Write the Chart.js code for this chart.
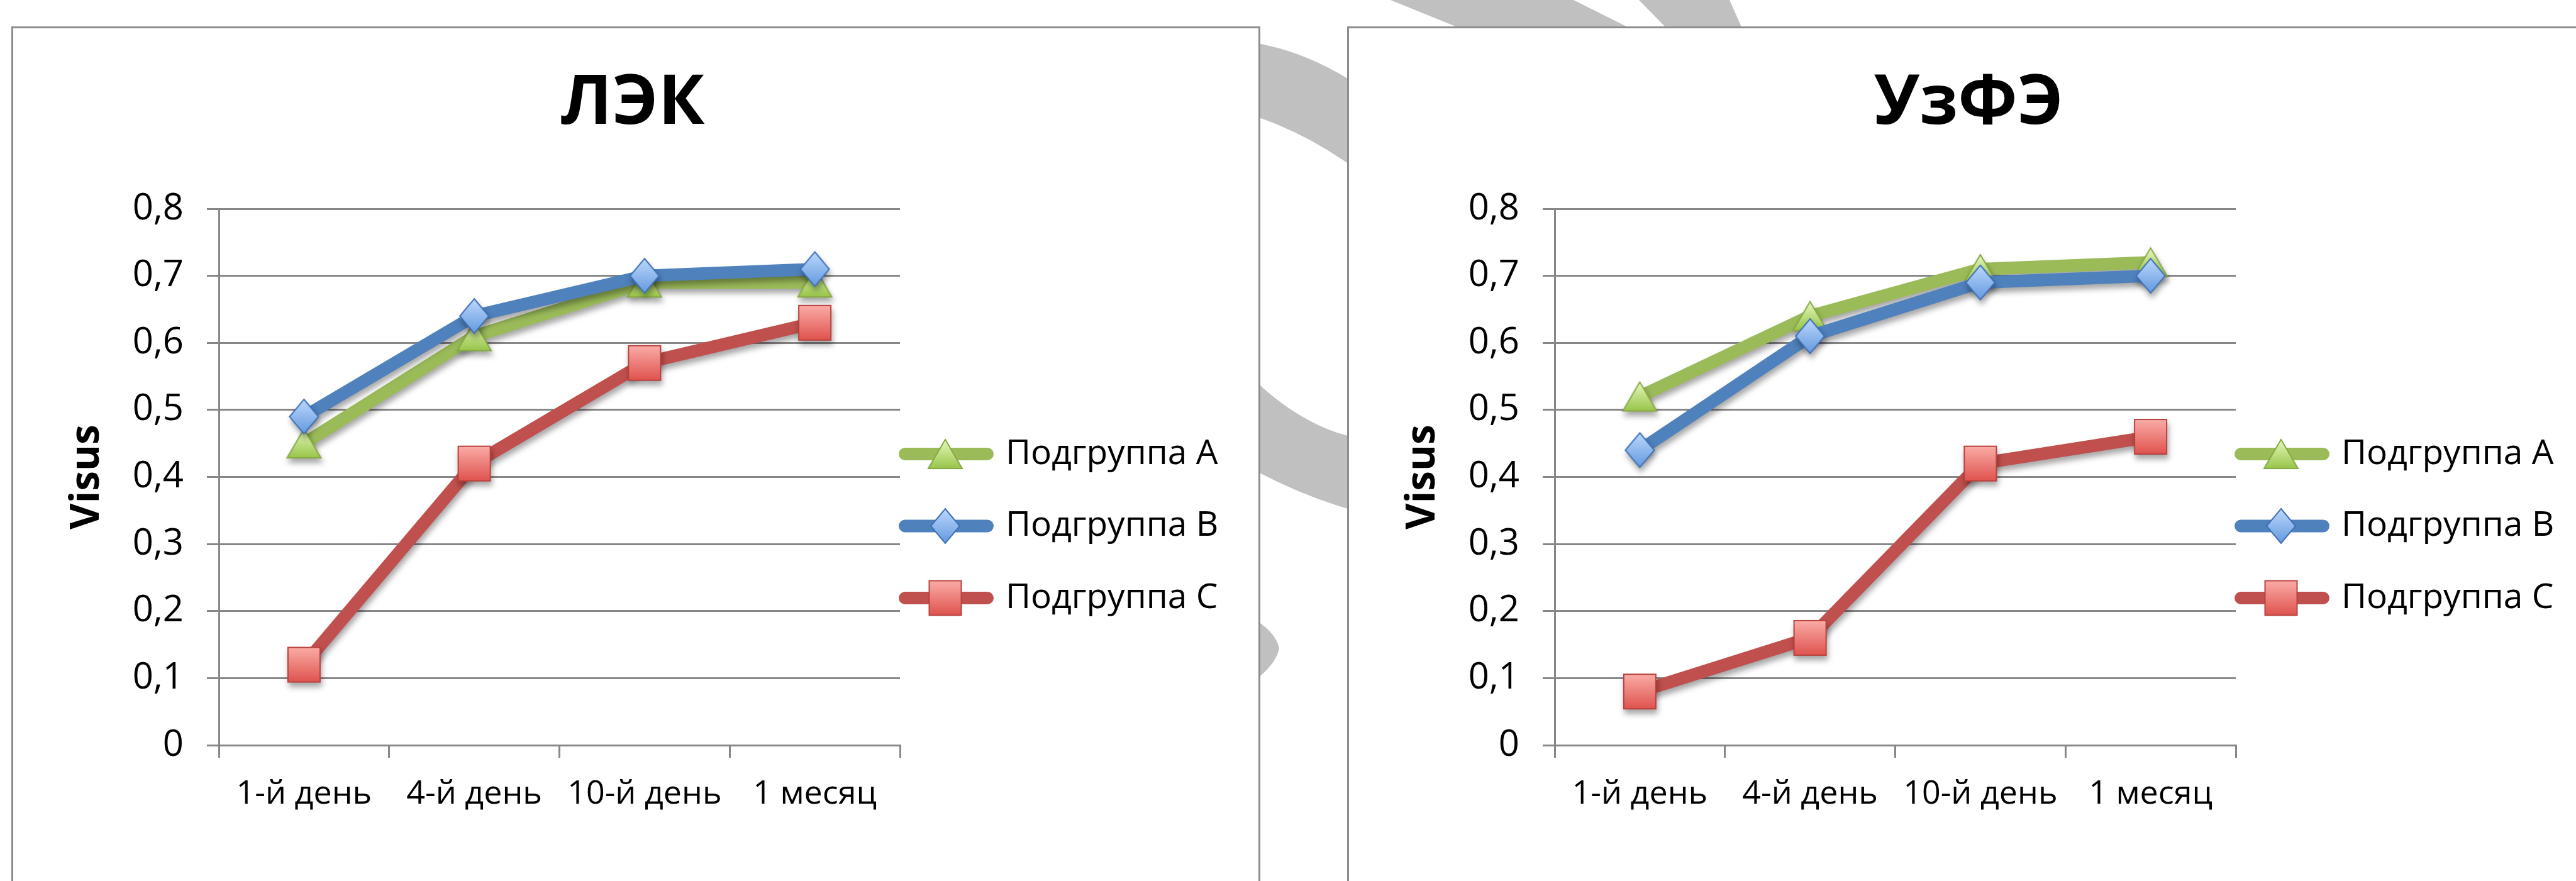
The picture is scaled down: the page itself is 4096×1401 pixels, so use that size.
<!DOCTYPE html>
<html>
<head>
<meta charset="utf-8">
<script src="https://cdn.jsdelivr.net/npm/chart.js@4.4.0/dist/chart.umd.min.js"></script>
<style>
  html, body { margin: 0; padding: 0; background: #fff; width: 4096px; height: 1401px; overflow: hidden; position: relative; }
  #swoosh { position: absolute; left: 0; top: 0; }
  .panel { position: absolute; top: 42px; width: 1986px; height: 1400px; box-sizing: border-box;
           background: #fff; border: 3px solid #8c8c8c; border-bottom: none; }
  .panel canvas { position: absolute; left: 0; top: 0; }
</style>
</head>
<body>
<!-- grey background swirl behind the two chart panels -->
<svg id="swoosh" width="4096" height="1401">
  <g fill="#c0c0c0">
    <path d="M1990,67 Q2080,82 2160,136 L2160,272 Q2080,212 1990,183 Z"/>
    <path d="M1990,600 Q2072,680 2160,697 L2160,814 Q2072,790 1990,745 Z"/>
    <path d="M1985,985 L2004,991 Q2030,1010 2034,1031 Q2030,1052 2004,1075 L1985,1080 Z"/>
    <path d="M2211,0 L2502,0 L2592,45 L2322,45 Z"/>
    <path d="M2606,0 L2750,0 L2770,45 L2650,45 Z"/>
  </g>
</svg>
<div class="panel" style="left:18px"><canvas id="chartLek" width="1970" height="1356"></canvas></div>
<div class="panel" style="left:2142px"><canvas id="chartUzfe" width="1970" height="1356"></canvas></div>

<script>
// ---- data ----
const categories = ['1-й день', '4-й день', '10-й день', '1 месяц'];
const seriesNames = ['Подгруппа A', 'Подгруппа B', 'Подгруппа C'];
const chartTitles = ['ЛЭК', 'УзФЭ'];
const yAxisTitle = 'Visus';
const yTickLabels = ['0', '0,1', '0,2', '0,3', '0,4', '0,5', '0,6', '0,7', '0,8'];

const lekA = [0.45, 0.61, 0.69, 0.69];
const lekB = [0.49, 0.64, 0.70, 0.71];
const lekC = [0.12, 0.42, 0.57, 0.63];

const uzfeA = [0.52, 0.64, 0.71, 0.72];
const uzfeB = [0.44, 0.61, 0.69, 0.70];
const uzfeC = [0.08, 0.16, 0.42, 0.46];

// ---- styles ----
const FONT = "'Open Sans', 'DejaVu Sans', sans-serif";
const GRID = '#878787';
const LINE_COLORS = ['#9bbb59', '#4f81bd', '#c0504d'];

// gradient-filled marker images (triangle / diamond / square)
function makeMarker(shape, w, h, topColor, bottomColor, edge) {
  const pad = 2;
  const c = document.createElement('canvas');
  c.width = w + pad * 2;
  c.height = h + pad * 2;
  const g = c.getContext('2d');
  const grad = g.createLinearGradient(0, pad, 0, pad + h);
  grad.addColorStop(0, topColor);
  grad.addColorStop(1, bottomColor);
  g.beginPath();
  if (shape === 'triangle') {
    g.moveTo(pad + w / 2, pad);
    g.lineTo(pad + w, pad + h);
    g.lineTo(pad, pad + h);
  } else if (shape === 'diamond') {
    g.moveTo(pad + w / 2, pad);
    g.lineTo(pad + w, pad + h / 2);
    g.lineTo(pad + w / 2, pad + h);
    g.lineTo(pad, pad + h / 2);
  } else {
    g.rect(pad, pad, w, h);
  }
  g.closePath();
  g.fillStyle = grad;
  g.fill();
  g.lineWidth = 2;
  g.strokeStyle = edge;
  g.stroke();
  return c;
}

const markers = [
  makeMarker('triangle', 54, 46, '#e6f8bd', '#98c54a', '#86a843'),
  makeMarker('diamond', 46, 55, '#bcd8fc', '#6499df', '#3d70b6'),
  makeMarker('square', 51, 55, '#fbaca7', '#df534e', '#b8413d')
];

// soft drop shadow under lines and markers
const shadowPlugin = {
  id: 'dropShadow',
  beforeDatasetDraw(chart) {
    const c = chart.ctx;
    c.save();
    c.shadowColor = 'rgba(0,0,0,0.35)';
    c.shadowBlur = 10;
    c.shadowOffsetX = 2;
    c.shadowOffsetY = 7;
  },
  afterDatasetDraw(chart) {
    chart.ctx.restore();
  }
};

// legend to the right of the plot: line sample + marker + label
const sideLegend = {
  id: 'sideLegend',
  afterDraw(chart, args, opts) {
    const ctx = chart.ctx;
    const right = chart.chartArea.right;
    chart.data.datasets.forEach((ds, i) => {
      const y = opts.firstRow + i * opts.rowGap;
      ctx.save();
      ctx.strokeStyle = ds.borderColor;
      ctx.lineWidth = ds.borderWidth;
      ctx.lineCap = 'round';
      ctx.beginPath();
      ctx.moveTo(right + opts.lineStart, y);
      ctx.lineTo(right + opts.lineEnd, y);
      ctx.stroke();
      const img = ds.pointStyle;
      ctx.drawImage(img, right + opts.markerX - img.width / 2, y - img.height / 2);
      ctx.fillStyle = '#000';
      ctx.font = opts.fontSize + 'px ' + FONT;
      ctx.textAlign = 'left';
      ctx.textBaseline = 'middle';
      ctx.fillText(ds.label, right + opts.textX, y);
      ctx.restore();
    });
  }
};

function buildChart(canvasId, title, seriesData) {
  const datasets = seriesData.map((values, i) => ({
    label: seriesNames[i],
    data: values,
    borderColor: LINE_COLORS[i],
    backgroundColor: LINE_COLORS[i],
    borderWidth: 20,
    borderJoinStyle: 'round',
    borderCapStyle: 'round',
    tension: 0,
    fill: false,
    pointStyle: markers[i],
    pointRadius: 27,
    pointBorderWidth: 0,
    order: 3 - i
  }));

  return new Chart(document.getElementById(canvasId), {
    type: 'line',
    data: { labels: categories, datasets },
    options: {
      responsive: false,
      animation: false,
      devicePixelRatio: 1,
      events: [],
      layout: { padding: 0 },
      plugins: {
        legend: { display: false },
        tooltip: { enabled: false },
        title: {
          display: true,
          text: title,
          color: '#000',
          font: { family: FONT, size: 110, weight: 'bold', lineHeight: 1 },
          padding: { top: 66, bottom: 111 }
        },
        sideLegend: {
          firstRow: 677, rowGap: 114.5,
          lineStart: 8, lineEnd: 139, markerX: 72, textX: 168, fontSize: 55
        }
      },
      scales: {
        x: {
          offset: true,
          grid: { offset: true, drawOnChartArea: false, drawTicks: true, tickLength: 20, color: GRID, lineWidth: 3 },
          border: { display: true, color: GRID, width: 3 },
          ticks: { color: '#000', padding: 32, maxRotation: 0, autoSkip: false,
                   font: { family: FONT, size: 52, lineHeight: 1 } },
          afterFit: (s) => { s.height = 216; }
        },
        y: {
          min: 0,
          max: 0.8,
          grid: { color: GRID, lineWidth: 3, drawTicks: true, tickLength: 19 },
          border: { display: true, color: GRID, width: 3 },
          ticks: {
            stepSize: 0.1,
            color: '#000',
            padding: 37,
            font: { family: FONT, size: 58, lineHeight: 1 },
            callback: (v) => yTickLabels[Math.round(v * 10)]
          },
          title: {
            display: true,
            text: yAxisTitle,
            color: '#000',
            font: { family: FONT, size: 64, weight: 'bold', lineHeight: 1 },
            padding: { top: 86, bottom: 0 }
          },
          afterFit: (s) => { s.width = 327; }
        },
        // empty right-hand box that reserves room for the legend
        legendSpace: {
          type: 'linear',
          position: 'right',
          display: true,
          grid: { display: false, drawTicks: false },
          border: { display: false },
          ticks: { display: false },
          afterFit: (s) => { s.width = 560; }
        }
      }
    },
    plugins: [shadowPlugin, sideLegend]
  });
}

buildChart('chartLek', chartTitles[0], [lekA, lekB, lekC]);
buildChart('chartUzfe', chartTitles[1], [uzfeA, uzfeB, uzfeC]);
</script>
</body>
</html>
